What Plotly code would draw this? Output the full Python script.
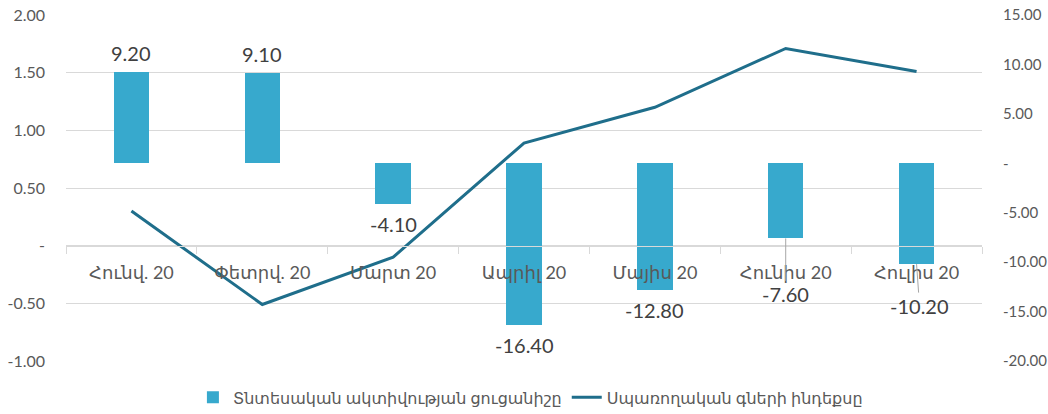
import plotly.graph_objects as go

categories = ["Հունվ. 20", "Փետրվ. 20", "Մարտ 20", "Ապրիլ 20", "Մայիս 20", "Հունիս 20", "Հուլիս 20"]
activity_index = [9.20, 9.10, -4.10, -16.40, -12.80, -7.60, -10.20]
cpi_values = [0.30, -0.51, -0.10, 0.89, 1.20, 1.71, 1.51]

left_ticks = [-1.0, -0.5, 0.0, 0.5, 1.0, 1.5, 2.0]
left_ticktext = ["-1.00", "-0.50", "-", "0.50", "1.00", "1.50", "2.00"]
right_ticks = [-20, -15, -10, -5, 0, 5, 10, 15]
right_ticktext = ["-20.00", "-15.00", "-10.00", "-5.00", "-", "5.00", "10.00", "15.00"]

name_bar = "Տնտեսական ակտիվության ցուցանիշը"
name_line = "Սպառողական գների ինդեքսը"

FONT = "Lato, 'DejaVu Sans', sans-serif"
TXT = "#595959"
GRID = "#d9d9d9"
BAR = "#37A9CD"
LINE = "#1F6E8B"

fig = go.Figure()
fig.add_trace(go.Bar(
    x=categories, y=activity_index, name=name_bar, yaxis="y2",
    marker=dict(color=BAR, line=dict(width=0)), width=0.27,
))
fig.add_trace(go.Scatter(
    x=categories, y=cpi_values, name=name_line, yaxis="y",
    mode="lines", line=dict(color=LINE, width=3),
))

# data labels
moved = {5: (0, 56), 6: (3, 42)}
for i, (c, v) in enumerate(zip(categories, activity_index)):
    label = f"{v:.2f}"
    if i in moved:
        ax, ay = moved[i]
        fig.add_annotation(x=c, y=v, xref="x", yref="y2", text=label,
                           showarrow=True, arrowhead=0, arrowwidth=1, arrowcolor="#a6a6a6",
                           ax=ax, ay=ay, standoff=0,
                           font=dict(family=FONT, size=20, color="#404040"))
    else:
        fig.add_annotation(x=c, y=v, xref="x", yref="y2", text=label,
                           showarrow=False, yanchor="middle",
                           yshift=19 if v > 0 else -20,
                           font=dict(family=FONT, size=20, color="#404040"))

fig.update_layout(
    width=1048, height=414,
    margin=dict(l=66, r=66, t=15, b=53, autoexpand=False),
    paper_bgcolor="white", plot_bgcolor="white",
    font=dict(family=FONT, color=TXT),
    bargap=0,
    showlegend=True,
    legend=dict(orientation="h", x=0.507, xanchor="center",
                yref="container", y=0.04, yanchor="middle",
                font=dict(family=FONT, size=16, color=TXT), traceorder="normal"),
    xaxis=dict(type="category", anchor="free", position=1/3,
               showline=True, linecolor=GRID, linewidth=1,
               ticks="outside", tickson="boundaries", ticklen=7, tickcolor=GRID,
               ticklabelstandoff=11, automargin=False,
               showgrid=False, tickfont=dict(family=FONT, size=18, color=TXT),
               range=[-0.5, 6.5]),
    yaxis=dict(range=[-1, 2], tickvals=left_ticks, ticktext=left_ticktext,
               showgrid=True, gridcolor=GRID, gridwidth=1, zeroline=False,
               ticks="", ticklabelstandoff=20, automargin=False,
               tickfont=dict(family=FONT, size=16, color=TXT)),
    yaxis2=dict(range=[-20, 15], tickvals=right_ticks, ticktext=right_ticktext,
                overlaying="y", side="right", showgrid=False, zeroline=False,
                ticks="", ticklabelstandoff=20, automargin=False,
                tickfont=dict(family=FONT, size=15, color=TXT)),
)

fig.write_html("out.html")
